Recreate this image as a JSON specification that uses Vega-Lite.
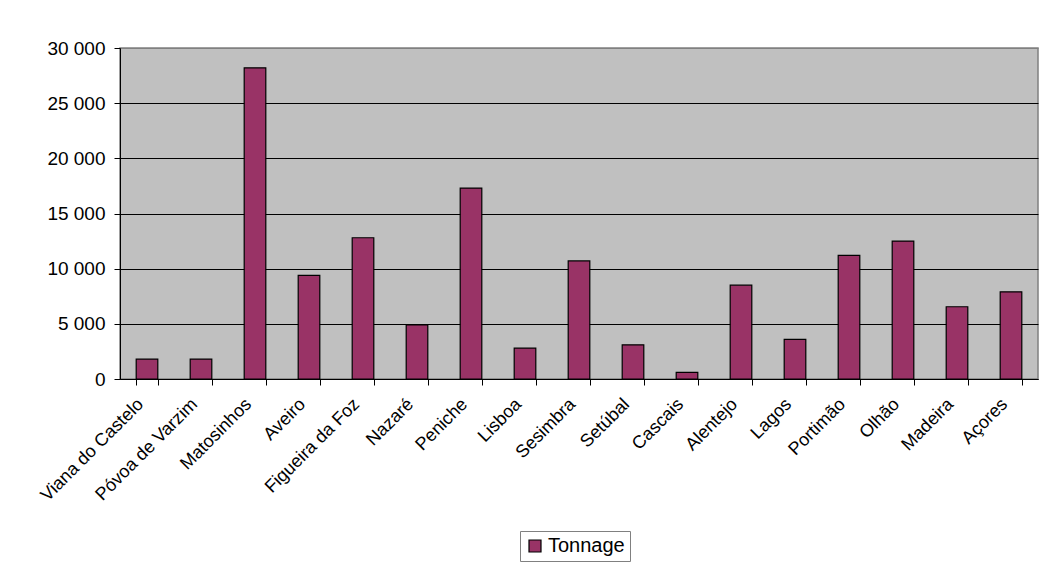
{
  "$schema": "https://vega.github.io/schema/vega-lite/v6.json",
  "width": 918,
  "height": 331,
  "autosize": {"type": "none"},
  "padding": {"left": 120, "top": 48, "right": 2, "bottom": 186},
  "background": "white",
  "config": {
    "font": "Liberation Sans",
    "view": {"fill": "#C0C0C0", "stroke": "#808080", "strokeWidth": 1.5}
  },
  "data": {
    "values": [
      {"port": "Viana do Castelo", "tonnage": 1800},
      {"port": "Póvoa de Varzim", "tonnage": 1800},
      {"port": "Matosinhos", "tonnage": 28200},
      {"port": "Aveiro", "tonnage": 9400},
      {"port": "Figueira da Foz", "tonnage": 12800},
      {"port": "Nazaré", "tonnage": 4900},
      {"port": "Peniche", "tonnage": 17300},
      {"port": "Lisboa", "tonnage": 2800},
      {"port": "Sesimbra", "tonnage": 10700},
      {"port": "Setúbal", "tonnage": 3100},
      {"port": "Cascais", "tonnage": 600},
      {"port": "Alentejo", "tonnage": 8500},
      {"port": "Lagos", "tonnage": 3600},
      {"port": "Portimão", "tonnage": 11200},
      {"port": "Olhão", "tonnage": 12500},
      {"port": "Madeira", "tonnage": 6550},
      {"port": "Açores", "tonnage": 7900}
    ]
  },
  "mark": {"type": "bar", "stroke": "black", "strokeWidth": 1.2},
  "encoding": {
    "x": {
      "field": "port",
      "type": "nominal",
      "sort": null,
      "scale": {"paddingInner": 0.6, "paddingOuter": 0.3},
      "axis": {
        "title": null,
        "orient": "bottom",
        "tickBand": "extent",
        "labelAngle": -45,
        "labelFontSize": 18,
        "labelColor": "black",
        "labelPadding": 10,
        "labelOffset": -13,
        "labelOverlap": false,
        "ticks": true,
        "tickSize": 6,
        "tickWidth": 1,
        "tickOpacity": 1,
        "tickColor": "black",
        "domainColor": "black",
        "domainWidth": 1
      }
    },
    "y": {
      "field": "tonnage",
      "type": "quantitative",
      "scale": {"domain": [0, 30000], "nice": false},
      "axis": {
        "title": null,
        "values": [0, 5000, 10000, 15000, 20000, 25000, 30000],
        "labelExpr": "replace(format(datum.value, ',d'), ',', ' ')",
        "labelFontSize": 19,
        "labelColor": "black",
        "labelPadding": 9,
        "tickSize": 6,
        "tickColor": "black",
        "domainColor": "black",
        "gridColor": {"condition": {"test": "datum.value === 30000", "value": "#808080"}, "value": "black"},
        "gridOpacity": 1,
        "gridWidth": 1
      }
    },
    "color": {
      "datum": "Tonnage",
      "type": "nominal",
      "scale": {"range": ["#993366"]},
      "legend": {
        "title": null,
        "orient": "none",
        "legendX": 400,
        "legendY": 483,
        "direction": "horizontal",
        "symbolType": "square",
        "symbolSize": 144,
        "symbolStrokeColor": "black",
        "symbolStrokeWidth": 1.2,
        "labelFontSize": 20,
        "labelColor": "black",
        "labelOffset": 3,
        "strokeColor": "#808080",
        "fillColor": "white",
        "padding": 5
      }
    }
  }
}
